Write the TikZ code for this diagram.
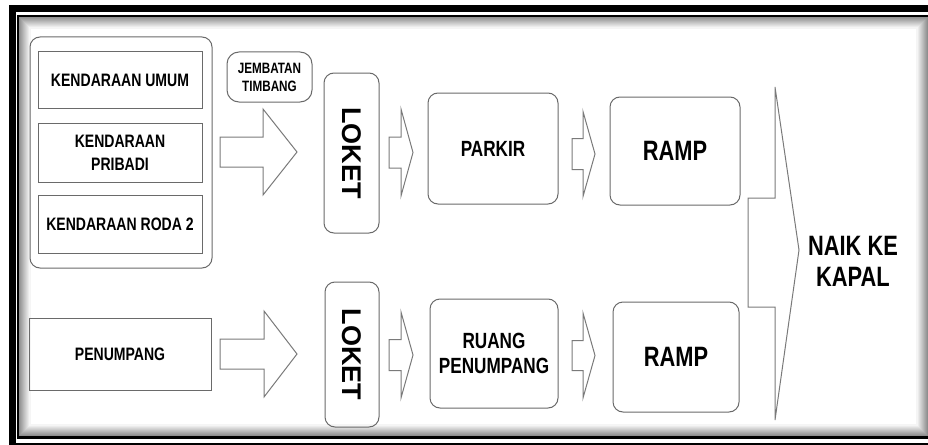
\documentclass[tikz,border=0pt]{standalone}
\usepackage{fontspec}
\newfontfamily\condsans{Liberation Sans}[FakeStretch=0.78]
\newfontfamily\plainsans{Liberation Sans}
\definecolor{edgegray}{HTML}{6A6A6A}
\definecolor{arrowgray}{HTML}{7A7A7A}
\tikzset{
  box/.style={draw=edgegray, line width=1pt, inner sep=0pt, align=center,
    text=black, font=\condsans\bfseries\fontsize{18}{23}\selectfont},
  roundbox/.style={box, rounded corners=10pt},
  blockarrow/.style={draw=arrowgray, line width=1pt, fill=white, line join=miter},
}
% block arrow: x start, x head base, x tip, y centre, shaft half-height, head half-height
\newcommand{\blockarr}[6]{%
  \draw[blockarrow] (#1,{#4-#5}) -- (#2,{#4-#5}) -- (#2,{#4-#6}) -- (#3,#4)
    -- (#2,{#4+#6}) -- (#2,{#4+#5}) -- (#1,{#4+#5}) -- cycle;}
\begin{document}
\begin{tikzpicture}[x=1pt,y=-1pt]
\useasboundingbox (0,0) rectangle (928,444);
\begin{scope}
  \clip (0,0) rectangle (928,444);
  \fill[white] (0,0) rectangle (928,444);
  % soft inner shadow along the frame
  \foreach \i [evaluate=\i as \c using {(12-\i)*4}] in {0,...,11}
    \draw[line width=1.2pt, black!\c] (19+\i,17+\i) rectangle (928-\i,436-\i);
  % double frame
  \draw[line width=7pt] (12,9) rectangle (945,446);
  \draw[line width=2.4pt] (18,16) rectangle (932,437.5);
\end{scope}

% vehicle group
\node[roundbox, minimum width=182pt, minimum height=231pt] (grp) at (121,152.5) {};
\node[box, minimum width=164pt, minimum height=56pt] (ku) at (120,80) {KENDARAAN UMUM};
\node[box, minimum width=164pt, minimum height=59pt] (kp) at (120,152.5) {KENDARAAN\\PRIBADI};
\node[box, minimum width=164pt, minimum height=58pt] (kr) at (120,224) {KENDARAAN RODA 2};
\node[roundbox, rounded corners=12pt, minimum width=85pt, minimum height=50pt,
  font=\condsans\bfseries\fontsize{15}{18}\selectfont] (jt) at (269.5,77) {JEMBATAN\\TIMBANG};

% passengers
\node[box, minimum width=182pt, minimum height=72pt] (pen) at (120,354) {PENUMPANG};

% ticket counters
\node[roundbox, minimum width=55pt, minimum height=160pt] (lk1) at (351.5,153) {};
\node[rotate=-90, font=\plainsans\bfseries\fontsize{27}{30}\selectfont] at (lk1.center) {LOKET};
\node[roundbox, minimum width=54pt, minimum height=145pt] (lk2) at (352,354.5) {};
\node[rotate=-90, font=\plainsans\bfseries\fontsize{27}{30}\selectfont] at (lk2.center) {LOKET};

% parking, passenger room, ramps
\node[roundbox, minimum width=130pt, minimum height=111pt,
  font=\condsans\bfseries\fontsize{22}{25}\selectfont] (pk) at (493,148.5) {PARKIR};
\node[roundbox, minimum width=128pt, minimum height=109pt,
  font=\condsans\bfseries\fontsize{22}{25}\selectfont] (rg) at (494,353.5) {RUANG\\PENUMPANG};
\node[roundbox, minimum width=130pt, minimum height=108pt,
  font=\condsans\bfseries\fontsize{28}{31}\selectfont] (rp1) at (675,151) {RAMP};
\node[roundbox, minimum width=126pt, minimum height=110pt,
  font=\condsans\bfseries\fontsize{28}{31}\selectfont] (rp2) at (676,357) {RAMP};

% boarding
\node[align=center, inner sep=0pt, font=\condsans\bfseries\fontsize{28}{31}\selectfont] (naik) at (853,261) {NAIK KE\\KAPAL};

% flow arrows
\blockarr{220}{263}{297}{152}{15}{43}
\blockarr{220}{264}{297}{354}{15}{43}
\blockarr{389}{401}{413}{152.5}{15.5}{43.5}
\blockarr{572}{583}{595}{154}{15.5}{42.5}
\blockarr{389}{401}{413}{355}{15.5}{43}
\blockarr{572}{583}{595}{355.5}{15}{42.5}
% merging arrow towards the ship
\draw[blockarrow] (775,87) -- (799,250) -- (775,420) -- (775,307) -- (748,307)
  -- (748,198) -- (775,198) -- cycle;
\end{tikzpicture}
\end{document}
